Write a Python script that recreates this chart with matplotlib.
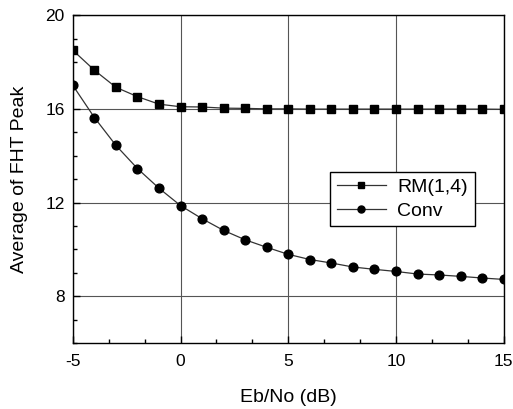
import numpy as np
import matplotlib
matplotlib.use('Agg')
import matplotlib.pyplot as plt
from matplotlib.ticker import MultipleLocator

plt.rcParams['font.family'] = ['Liberation Sans', 'DejaVu Sans']
plt.rcParams['axes.unicode_minus'] = False

ebno = list(range(-5, 16))
rm14 = [18.5, 17.65, 16.92, 16.52, 16.2, 16.09, 16.08, 16.03, 16.02, 16.0, 16.0,
        15.99, 15.99, 15.99, 15.99, 15.99, 15.99, 15.99, 15.99, 15.99, 15.98]
conv = [17.0, 15.63, 14.44, 13.45, 12.61, 11.87, 11.31, 10.81, 10.41, 10.09, 9.79,
        9.57, 9.42, 9.25, 9.15, 9.06, 8.95, 8.91, 8.85, 8.78, 8.72]

fig = plt.figure(figsize=(5.13, 4.09), dpi=100)
ax = fig.add_axes([0.142, 0.161, 0.84, 0.802])

ax.plot(ebno, rm14, color='#333333', lw=0.9, marker='s', ms=5.5,
        mfc='black', mec='black', label='RM(1,4)')
ax.plot(ebno, conv, color='#333333', lw=0.9, marker='o', ms=6.3,
        mfc='black', mec='black', label='Conv')

ax.set_xlim(-5, 15)
ax.set_ylim(6, 20)
ax.xaxis.set_major_locator(MultipleLocator(5))
ax.xaxis.set_minor_locator(MultipleLocator(5 / 3))
ax.yaxis.set_major_locator(MultipleLocator(4))
ax.yaxis.set_minor_locator(MultipleLocator(1))
ax.tick_params(which='both', direction='in', labelsize=12.5, width=1)
ax.tick_params(axis='x', which='major', length=5, pad=8)
ax.tick_params(axis='y', which='major', length=5, pad=6)
ax.tick_params(which='minor', length=3)
ax.grid(True, which='major', color='#555555', lw=0.8)
for s in ax.spines.values():
    s.set_linewidth(1.0)

ax.set_xlabel('Eb/No (dB)', fontsize=14, labelpad=14)
ax.set_ylabel('Average of FHT Peak', fontsize=14, labelpad=12)

leg = ax.legend(loc='upper left', bbox_to_anchor=(0.575, 0.552), fontsize=14,
                frameon=True, fancybox=False, edgecolor='black',
                handlelength=2.5, markerscale=0.8, borderpad=0.35,
                labelspacing=0.3, handletextpad=0.6)
leg.get_frame().set_linewidth(1.0)
leg.get_frame().set_alpha(1)

fig.savefig('out.png', dpi=100)
